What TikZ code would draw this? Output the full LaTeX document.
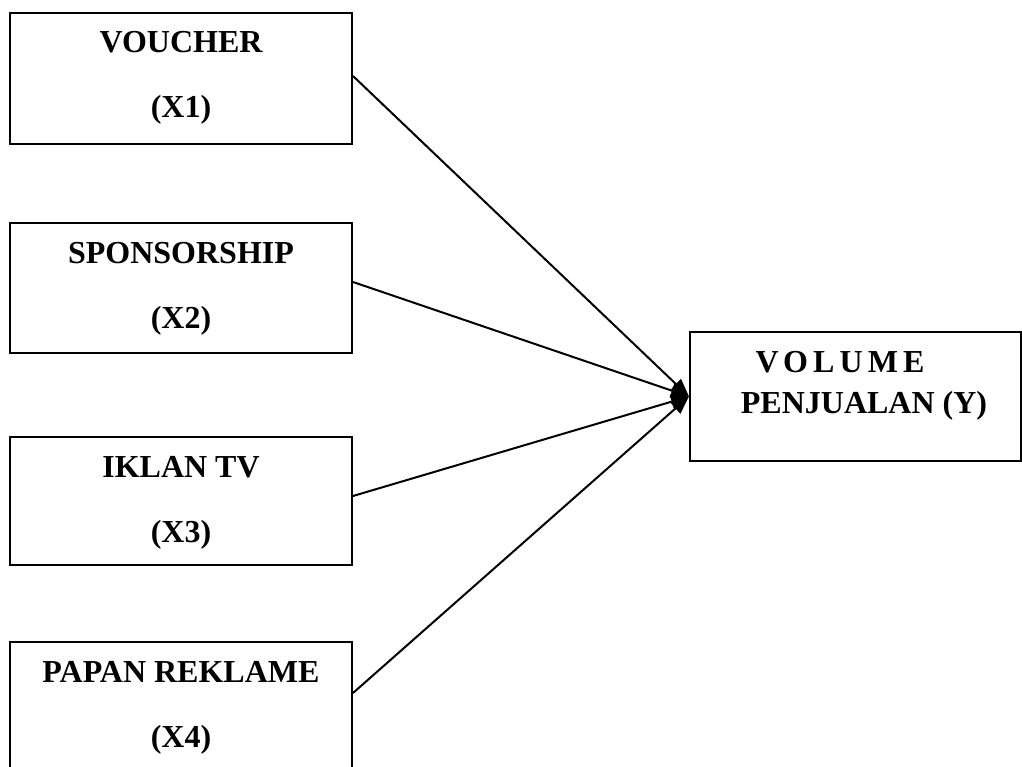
\documentclass[tikz,border=0pt]{standalone}
\usepackage{fontspec}
\setmainfont{Liberation Serif}
\usetikzlibrary{arrows.meta,calc}
\begin{document}
\begin{tikzpicture}[x=1pt,y=-1pt,
  box/.style={draw,line width=2pt,rectangle,inner sep=0pt},
  lbl/.style={anchor=base,inner sep=0pt,font=\fontsize{32}{38}\selectfont\bfseries},
  conn/.style={line width=2pt,-{Triangle[length=18pt,width=14pt]}}
]
\useasboundingbox (0,0) rectangle (1022,767);
\begin{scope}
\clip (0,0) rectangle (1022,767);
\node[box,minimum width=342pt,minimum height=131pt] (b1) at (181,78.5) {};
\node[box,minimum width=342pt,minimum height=130pt] (b2) at (181,288) {};
\node[box,minimum width=342pt,minimum height=128pt] (b3) at (181,501) {};
\node[box,minimum width=342pt,minimum height=130pt] (b4) at (181,707) {};
\node[box,minimum width=331pt,minimum height=129pt] (y) at (855.5,396.5) {};
\end{scope}

\node[lbl] (t1a) at (181,53) {VOUCHER};
\node[lbl] (t1b) at (181,118) {(X1)};
\node[lbl] (t2a) at (181,263) {SPONSORSHIP};
\node[lbl] (t2b) at (181,328) {(X2)};
\node[lbl] (t3a) at (181,477) {IKLAN TV};
\node[lbl] (t3b) at (181,542) {(X3)};
\node[lbl] (t4a) at (181,682) {PAPAN REKLAME};
\node[lbl] (t4b) at (181,747) {(X4)};
\node[lbl] (ya) at (840,372) {\addfontfeature{LetterSpace=16}VOLUME};
\node[lbl] (yb) at (864,413) {PENJUALAN (Y)};

\draw[conn] ([yshift=2.5pt]b1.east) -- (y.west);
\draw[conn] ([yshift=6pt]b2.east) -- (y.west);
\draw[conn] ([yshift=5pt]b3.east) -- (y.west);
\draw[conn] ([yshift=14pt]b4.east) -- (y.west);
\end{tikzpicture}
\end{document}
